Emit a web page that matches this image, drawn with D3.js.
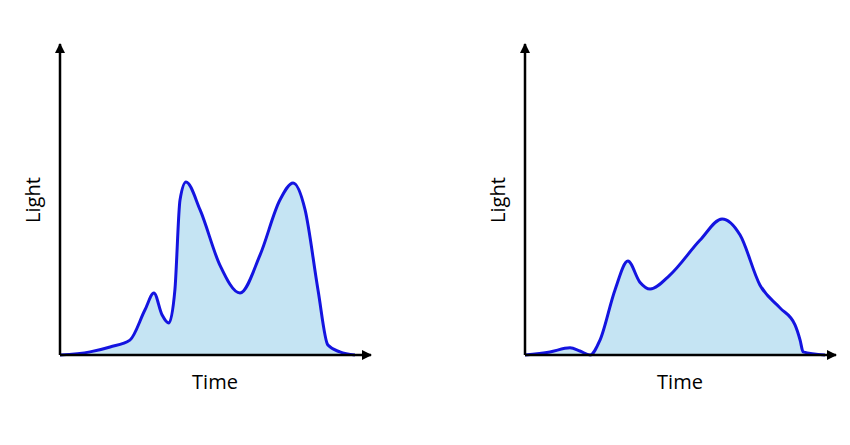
<!DOCTYPE html>
<html><head><meta charset="utf-8">
<script src="https://cdn.jsdelivr.net/npm/d3@7"></script>
<style>body{margin:0;background:#fff}</style></head>
<body><svg id="c" width="850" height="445"></svg>
<script>
const leftTime = [0,10,16.7,23.3,28.3,31.3,34,36.3,38.3,40,42,46.7,53.3,60,66.7,73.3,77.7,81.7,86,89.3,93.3,98.3];
const leftLight = [0,1,2.6,4.8,14.5,20,13,10.3,21,50,55.8,46.8,29,20,32.3,50,55.5,46.8,21,3.2,1,0];
const rightTime = [0,8.3,15,18.3,21.7,25,30,34.3,38.3,41.7,48.3,58.3,65.7,71.7,78.3,85,90,91.7,92.7,100];
const rightLight = [0,1,2.3,1.3,0,4.8,21,30.3,23.5,21.3,25.8,37,43.9,38.7,22.6,15.2,9.7,4.8,1,0];
const xLabel = "Time", yLabel = "Light";

const svg = d3.select("#c");
const defs = svg.append("defs");
defs.append("marker").attr("id","arr").attr("viewBox","0 0 10 10").attr("refX",9).attr("refY",5)
  .attr("markerWidth",4).attr("markerHeight",4).attr("orient","auto-start-reverse")
  .append("path").attr("d","M0,0L10,5L0,10z").attr("fill","#000");

function panel(x0, times, lights){
  const x = d3.scaleLinear().domain([0,100]).range([x0, x0+300]);
  const y = d3.scaleLinear().domain([0,100]).range([355,45]);
  const pts = times.map((t,i)=>[t,lights[i]]);
  const g = svg.append("g");
  g.append("path").datum(pts).attr("fill","#c5e4f3")
    .attr("d", d3.area().x(d=>x(d[0])).y0(y(0)).y1(d=>y(d[1])).curve(d3.curveMonotoneX));
  g.append("path").datum(pts).attr("fill","none").attr("stroke","#1414e0").attr("stroke-width",3)
    .attr("d", d3.line().x(d=>x(d[0])).y(d=>y(d[1])).curve(d3.curveMonotoneX));
  g.append("line").attr("x1",x(0)).attr("y1",y(0)).attr("x2",x(0)).attr("y2",44)
    .attr("stroke","#000").attr("stroke-width",2.5).attr("marker-end","url(#arr)");
  g.append("line").attr("x1",x(0)).attr("y1",y(0)).attr("x2",x0+311).attr("y2",y(0))
    .attr("stroke","#000").attr("stroke-width",2.5).attr("marker-end","url(#arr)");
  g.append("text").attr("x",x0+155).attr("y",389).attr("text-anchor","middle")
    .attr("font-family","Open Sans, sans-serif").attr("font-size",20).text(xLabel);
  g.append("text").attr("transform",`translate(${x0-20},200) rotate(-90)`).attr("text-anchor","middle")
    .attr("font-family","Open Sans, sans-serif").attr("font-size",20).text(yLabel);
}
panel(60, leftTime, leftLight);
panel(525, rightTime, rightLight);
</script></body></html>
